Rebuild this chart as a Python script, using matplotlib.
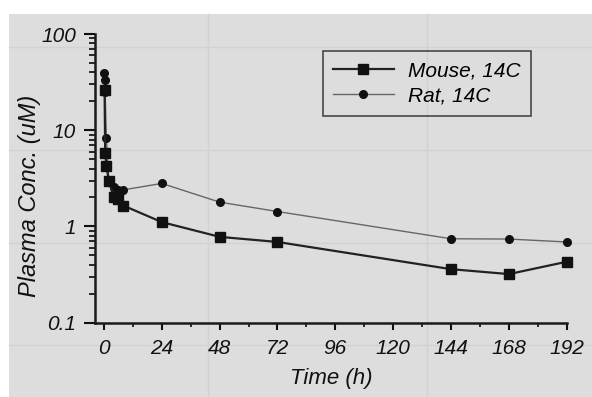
import matplotlib
matplotlib.use('Agg')
import matplotlib.pyplot as plt
from matplotlib.patches import Rectangle
from matplotlib.ticker import LogLocator, MultipleLocator, FixedFormatter, FixedLocator

plt.rcParams['font.family'] = ['Liberation Sans', 'DejaVu Sans']
plt.rcParams['font.style'] = 'italic'

# Data (time in hours, conc in uM)
mouse_t = [0.25, 0.5, 1, 2, 4, 6, 8, 24, 48, 72, 144, 168, 192]
mouse_c = [26, 5.8, 4.3, 3.0, 2.0, 1.95, 1.65, 1.11, 0.78, 0.69, 0.36, 0.32, 0.43]

rat_t = [0.083, 0.25, 0.5, 1, 2, 4, 6, 8, 24, 48, 72, 144, 168, 192]
rat_c = [39, 33, 25, 8.3, 3.0, 2.6, 2.4, 2.4, 2.8, 1.79, 1.43, 0.745, 0.74, 0.69]

x_ticks = [0, 24, 48, 72, 96, 120, 144, 168, 192]
y_ticks = [0.1, 1, 10, 100]
y_tick_labels = ['0.1', '1', '10', '100']

W, H = 592, 397
bg = '#dddddd'

fig = plt.figure(figsize=(W / 100, H / 100), dpi=100)
fig.patch.set_facecolor('white')

# grey scanned page with a white strip on top and left
fig.add_artist(Rectangle((9 / W, 0), 1, 1 - 14 / H, transform=fig.transFigure,
                         facecolor=bg, edgecolor='none', zorder=0))

# faint lines of the table showing through from the other side of the page
ghost = '#d2d2d2'
for yy in [47, 150, 243, 345]:
    fig.add_artist(plt.Line2D([9 / W, 1], [1 - yy / H, 1 - yy / H], color=ghost, lw=1.0,
                              transform=fig.transFigure, zorder=0.5))
for xx in [208, 427]:
    fig.add_artist(plt.Line2D([xx / W, xx / W], [0, 1 - 14 / H], color=ghost, lw=1.0,
                              transform=fig.transFigure, zorder=0.5))

ax = fig.add_axes([95.3 / W, 1 - 322.7 / H, (566.7 - 95.3) / W, (322.7 - 34) / H])
ax.set_zorder(2)
ax.set_facecolor('none')

ax.plot(rat_t, rat_c, '-', color='#666666', lw=1.0, marker='o', ms=5.5,
        mfc='#111111', mec='#111111', label='Rat, 14C', zorder=3, clip_on=False)
ax.plot(mouse_t, mouse_c, '-', color='#222222', lw=1.6, marker='s', ms=6.5,
        mfc='#111111', mec='#111111', label='Mouse, 14C', zorder=4, clip_on=False)

ax.set_yscale('log')
ax.set_ylim(0.1, 100)
ax.set_xlim(-3.6, 192)

ax.yaxis.set_major_locator(FixedLocator(y_ticks))
ax.yaxis.set_major_formatter(FixedFormatter(y_tick_labels))
ax.yaxis.set_minor_locator(LogLocator(base=10, subs=range(2, 10)))
ax.yaxis.set_minor_formatter(plt.NullFormatter())
ax.xaxis.set_major_locator(FixedLocator(x_ticks))
ax.xaxis.set_minor_locator(MultipleLocator(12))

for s in ['top', 'right']:
    ax.spines[s].set_visible(False)
for s in ['left', 'bottom']:
    ax.spines[s].set_linewidth(1.8)
    ax.spines[s].set_color('#1a1a1a')

ax.tick_params(axis='y', which='major', direction='out', length=8, width=1.5, pad=6,
               labelsize=15, colors='#111111')
ax.tick_params(axis='y', which='minor', direction='out', length=4, width=1.3, colors='#1a1a1a')
ax.tick_params(axis='x', which='major', direction='out', length=5, width=1.5, pad=7,
               labelsize=15, colors='#111111')
ax.tick_params(axis='x', which='minor', direction='out', length=3, width=1.3, colors='#1a1a1a')

ax.set_xlabel('Time (h)', fontsize=16, color='#111111', labelpad=7)
ax.set_ylabel('Plasma Conc. (uM)', fontsize=17, color='#111111')
ax.yaxis.set_label_coords(-0.115, 0.44)

handles, labels = ax.get_legend_handles_labels()
leg = ax.legend(handles[::-1], labels[::-1], loc='upper left',
                bbox_to_anchor=(322.7 / W, 1 - 50.7 / H), bbox_transform=fig.transFigure,
                borderaxespad=0, fontsize=15, handlelength=2.9, handletextpad=0.7,
                labelspacing=0.3, borderpad=0.5, fancybox=False, frameon=True)
leg.get_frame().set_edgecolor('#222222')
leg.get_frame().set_linewidth(1.2)
leg.get_frame().set_facecolor('none')

fig.savefig('out.png', dpi=100)
